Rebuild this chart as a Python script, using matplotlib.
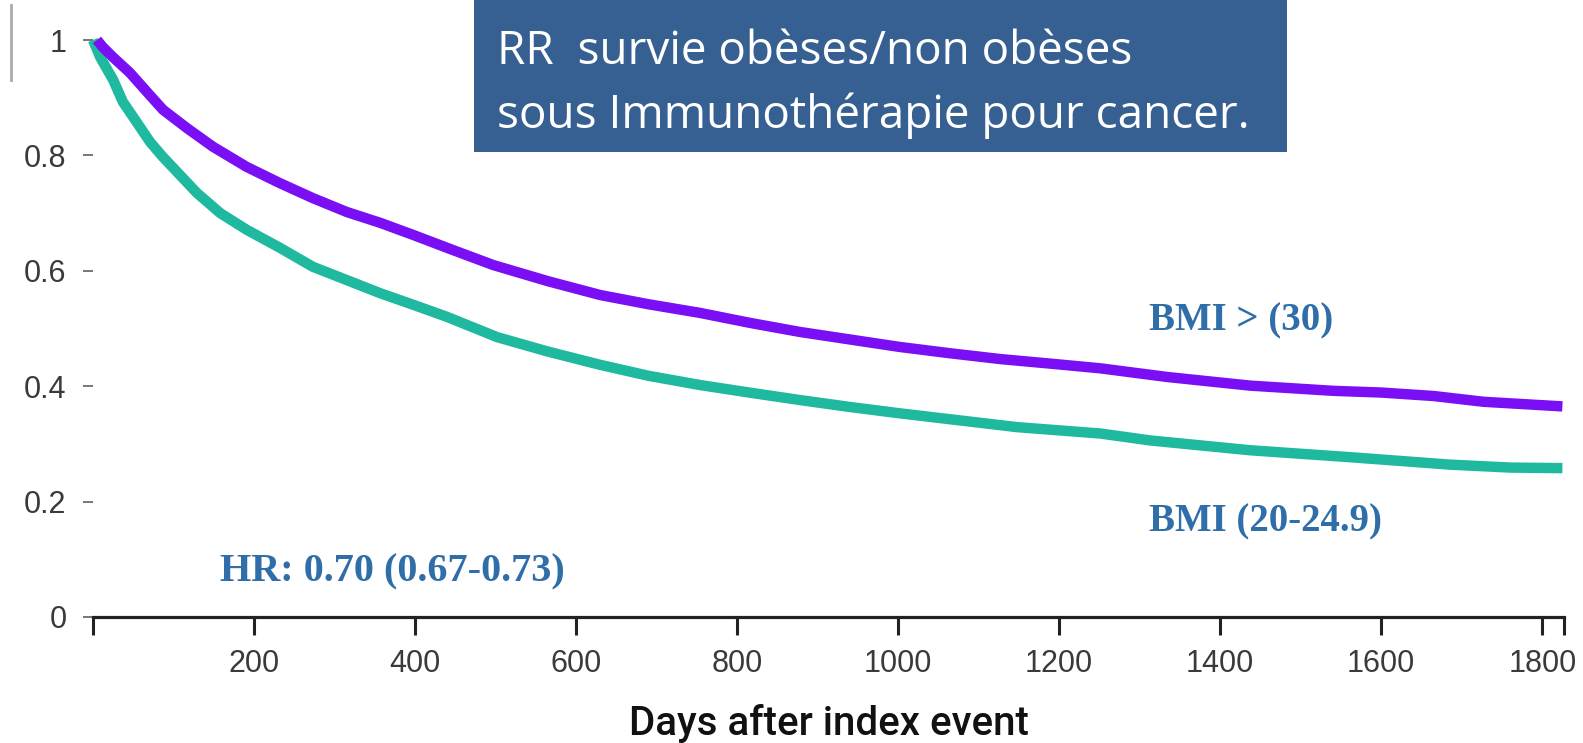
import matplotlib
matplotlib.use("Agg")
import matplotlib.pyplot as plt
from matplotlib.patches import Rectangle
from matplotlib.lines import Line2D

# survival curves (days, fraction surviving)
obese_days = [5, 12, 25, 46, 67, 87, 117, 149, 191, 232, 273, 315, 357, 398,
              447, 497, 565, 630, 690, 754, 815, 878, 940, 1002, 1065, 1127,
              1190, 1251, 1334, 1437, 1540, 1600, 1665, 1727, 1825]
obese_surv = [1.0, 0.988, 0.970, 0.943, 0.910, 0.879, 0.847, 0.815, 0.780,
              0.752, 0.726, 0.702, 0.683, 0.662, 0.636, 0.610, 0.582, 0.558,
              0.542, 0.527, 0.510, 0.494, 0.481, 0.468, 0.457, 0.447, 0.439,
              0.431, 0.416, 0.401, 0.392, 0.389, 0.383, 0.373, 0.365]

normal_days = [0, 9, 25, 37, 55, 71, 87, 108, 129, 158, 191, 232, 273, 315,
               357, 398, 440, 502, 565, 630, 690, 754, 815, 878, 940, 1002,
               1075, 1148, 1251, 1313, 1437, 1561, 1686, 1760, 1825]
normal_surv = [1.0, 0.970, 0.931, 0.893, 0.856, 0.823, 0.797, 0.766, 0.735,
               0.700, 0.671, 0.640, 0.607, 0.584, 0.561, 0.541, 0.520, 0.485,
               0.460, 0.437, 0.418, 0.402, 0.389, 0.376, 0.364, 0.353, 0.341,
               0.329, 0.318, 0.306, 0.289, 0.277, 0.264, 0.259, 0.258]

xticks = [200, 400, 600, 800, 1000, 1200, 1400, 1600, 1800]
yticks = [0, 0.2, 0.4, 0.6, 0.8, 1]
ytick_labels = ['0', '0.2', '0.4', '0.6', '0.8', '1']

W, H = 1583, 743
fig = plt.figure(figsize=(W / 100, H / 100), dpi=100)
ax = fig.add_axes([93 / W, 1 - 617 / H, (1564 - 93) / W, (617 - 40) / H])

ax.plot(obese_days, obese_surv, color='#7A0EF4', lw=7.5, solid_capstyle='butt',
        solid_joinstyle='round', clip_on=False, zorder=3)
ax.plot(normal_days, normal_surv, color='#1EB99F', lw=7.5, solid_capstyle='butt',
        solid_joinstyle='round', clip_on=False, zorder=2)

ax.set_xlim(0, 1827)
ax.set_ylim(0, 1)

for s in ['top', 'right', 'left']:
    ax.spines[s].set_visible(False)
ax.spines['bottom'].set_linewidth(2.3)
ax.spines['bottom'].set_color('#222222')

ax.set_xticks(xticks)
ax.set_xticks([0, 1827], minor=True)
ax.tick_params(axis='x', which='both', direction='out', length=13, width=2.2,
               color='#222222', pad=10, labelsize=22, labelcolor='#3a3a3a')
ax.set_yticks(yticks)
ax.set_yticklabels(ytick_labels)
ax.tick_params(axis='y', direction='out', length=7, width=1.4, color='#777777',
               pad=12, labelsize=22, labelcolor='#3a3a3a')
for lab in ax.get_xticklabels() + ax.get_yticklabels():
    lab.set_fontfamily('Liberation Sans')

ax.set_xlabel('Days after index event', fontsize=29, fontfamily='Roboto',
              fontweight=500, color='#111111', labelpad=18)

lab_color = '#2F6EA8'
ax.text(1312, 0.5125, 'BMI > (30)', fontsize=28, fontfamily='Liberation Serif',
        fontweight='bold', color=lab_color, va='center', ha='left')
ax.text(1312, 0.165, 'BMI (20-24.9)', fontsize=28, fontfamily='Liberation Serif',
        fontweight='bold', color=lab_color, va='center', ha='left')
ax.text(158, 0.078, 'HR: 0.70 (0.67-0.73)', fontsize=29, fontfamily='Liberation Serif',
        fontweight='bold', color=lab_color, va='center', ha='left')

# title box
fig.add_artist(Rectangle((474 / W, 1 - 152 / H), (1287 - 474) / W, 152 / H,
                         transform=fig.transFigure, facecolor='#376092',
                         edgecolor='none', zorder=5))
fig.text(497 / W, 1 - 64 / H, 'RR  survie obèses/non obèses', fontsize=33,
         fontfamily='Open Sans', color='white', va='baseline', ha='left', zorder=6)
fig.text(497 / W, 1 - 128 / H, 'sous Immunothérapie pour cancer.', fontsize=33,
         fontfamily='Open Sans', color='white', va='baseline', ha='left', zorder=6)

# small grey mark in the top left corner
fig.add_artist(Line2D([11 / W, 11 / W], [1 - 5 / H, 1 - 80 / H],
                      transform=fig.transFigure, color='#aaaaaa', lw=2))

fig.savefig('out.png', dpi=100)
